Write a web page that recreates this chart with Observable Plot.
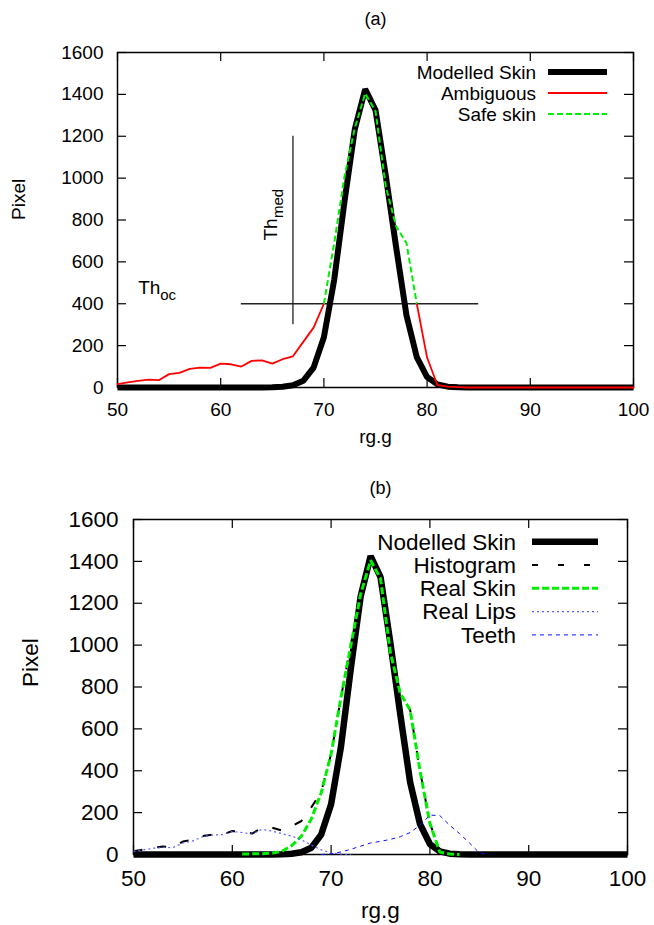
<!DOCTYPE html>
<html><head><meta charset="utf-8">
<script src="https://cdn.jsdelivr.net/npm/d3@7"></script>
<script src="https://cdn.jsdelivr.net/npm/@observablehq/plot@0.6"></script>
<style>
body{margin:0;background:#fff;}
#wrap{position:relative;width:654px;height:925px;overflow:hidden;}
#wrap svg{display:block;}
</style></head><body><div id="wrap"></div>
<script>
// ---- data ----
const rgg = [50,51,52,53,54,55,56,57,58,59,60,61,62,63,64,65,66,67,68,69,70,71,72,73,74,75,76,77,78,79,80,81,82,83,84,85,86,87,88,89,90,91,92,93,94,95,96,97,98,99,100];
const xTicks = [50,60,70,80,90,100];
const yTicks = [0,200,400,600,800,1000,1200,1400,1600];

// modelled skin (both panels)
const modelled = [0,0,0,0,0,0,0,0,0,0,0,0,0,0,
  0.5,1.5,4,11,32,95,240,515,890,1235,1425,1325,1010,670,345,145,50,15,4,1,
  0,0,0,0,0,0,0,0,0,0,0,0,0,0,0,0,0];
// panel (a)
const ambiguous = [16,24,32,38,35,64,70,89,95,94,114,111,100,127,130,114,135,149,218,286,400,
  null,null,null,null,null,null,null,null,
  400,143,11,4,2,
  0,0,0,0,0,0,0,0,0,0,0,0,0,0,0,0,0];
const safeSkin = [null,null,null,null,null,null,null,null,null,null,null,null,null,null,null,null,null,null,null,null,
  400,690,1010,1240,1405,1320,960,770,690,400,
  null,null,null,null,null,null,null,null,null,null,null,null,null,null,null,null,null,null,null,null,null];
// panel (b)
const histogram = [16,24,32,38,35,62,70,88,95,95,112,110,100,127,128,115,135,160,225,300,480,750,1005,1245,1410,1320,965,770,690,400,150,12,3,
  0,0,0,0,0,0,0,0,0,0,0,0,0,0,0,0,0,0];
const realSkin = [null,null,null,null,null,null,null,null,null,null,null,
  2,3,4,6,15,42,88,170,295,480,750,1000,1245,1405,1318,965,770,690,400,148,12,2,0,
  null,null,null,null,null,null,null,null,null,null,null,null,null,null,null,null,null];
const realLips = [15,22,30,34,33,55,65,85,93,95,110,105,98,120,112,100,88,70,45,22,7,2,0,
  null,null,null,null,null,null,null,null,null,null,null,null,null,null,null,null,null,null,null,null,null,null,null,null,null,null,null,null];
const teeth = [null,null,null,null,null,null,null,null,null,null,null,null,null,null,null,null,null,null,null,
  0,3,12,25,40,55,63,72,85,105,140,188,186,140,100,55,8,0,
  null,null,null,null,null,null,null,null,null,null,null,null,null,null];

// thresholds (panel a)
const thOc = 400, thOcRange = [62, 85];
const thMed = 67, thMedRange = [300, 1200];

const FONT = "'Liberation Sans', Arial, Helvetica, sans-serif";
const wrap = document.getElementById("wrap");
const plain = d => String(d);

function framedAxes(fw, fh, fs, padX, padY) {
  return [
    Plot.frame({stroke: "black", strokeWidth: 1.5}),
    Plot.ruleX(xTicks, {x: d => d, insetTop: fh - 9, strokeWidth: 1.2}),
    Plot.ruleX(xTicks, {x: d => d, insetBottom: fh - 9, strokeWidth: 1.2}),
    Plot.ruleY(yTicks, {y: d => d, insetRight: fw - 9, strokeWidth: 1.2}),
    Plot.ruleY(yTicks, {y: d => d, insetLeft: fw - 9, strokeWidth: 1.2}),
    Plot.axisX({ticks: xTicks, tickFormat: plain, tickSize: 0, tickPadding: padX, fontSize: fs, label: null}),
    Plot.axisY({ticks: yTicks, tickFormat: plain, tickSize: 0, tickPadding: padY, fontSize: fs, label: null})
  ];
}

function addLegend(svg, items, o) {
  const g = d3.select(svg).append("g").attr("font-family", FONT).attr("font-size", o.fontSize);
  items.forEach((it, i) => {
    const y = o.y0 + i * o.dy;
    g.append("text").attr("x", o.xText).attr("y", y).attr("dy", "0.35em")
      .attr("text-anchor", "end").attr("fill", "black").text(it.label);
    g.append("line").attr("x1", o.x1).attr("x2", o.x2).attr("y1", y).attr("y2", y)
      .attr("stroke", it.stroke).attr("stroke-width", it.width)
      .attr("stroke-dasharray", it.dash || null);
  });
}

// ---- panel (a) ----
const dataA = rgg.map((x, i) => ({x, modelled: modelled[i], ambiguous: ambiguous[i], safe: safeSkin[i]}));
const GREEN = "#00ee00";
const plotA = Plot.plot({
  width: 654, height: 462,
  marginTop: 52, marginBottom: 75, marginLeft: 117, marginRight: 21,
  style: {fontFamily: FONT, fontSize: "19px", background: "white", overflow: "visible", color: "black"},
  x: {domain: [50, 100]},
  y: {domain: [0, 1600]},
  marks: [
    ...framedAxes(516, 335, 19, 15, 14),
    Plot.text(["(a)"], {frameAnchor: "top", dy: -33, fontSize: 18, lineAnchor: "middle"}),
    Plot.text(["Pixel"], {frameAnchor: "left", dx: -99, rotate: -90, fontSize: 19, lineAnchor: "middle"}),
    Plot.text(["rg.g"], {frameAnchor: "bottom", dy: 49, fontSize: 19, lineAnchor: "middle"}),
    Plot.ruleY([thOc], {x1: thOcRange[0], x2: thOcRange[1], stroke: "#222", strokeWidth: 1.3}),
    Plot.ruleX([thMed], {y1: thMedRange[0], y2: thMedRange[1], stroke: "#222", strokeWidth: 1.3}),
    Plot.text(["Th"], {x: 52, y: 447, textAnchor: "start", lineAnchor: "bottom", fontSize: 19}),
    Plot.text(["oc"], {x: 52, y: 447, dx: 22, dy: 6, textAnchor: "start", lineAnchor: "bottom", fontSize: 15}),
    Plot.text(["Th"], {x: 65.5, y: 702, rotate: -90, textAnchor: "start", lineAnchor: "bottom", fontSize: 19}),
    Plot.text(["med"], {x: 65.5, y: 702, rotate: -90, dx: 5.5, dy: -22.5, textAnchor: "start", lineAnchor: "bottom", fontSize: 15}),
    Plot.line(dataA, {x: "x", y: "modelled", stroke: "black", strokeWidth: 6, strokeLinejoin: "miter", strokeLinecap: "butt"}),
    Plot.line(dataA, {x: "x", y: "ambiguous", stroke: "#ff0000", strokeWidth: 1.8, strokeLinejoin: "miter"}),
    Plot.line(dataA, {x: "x", y: "safe", stroke: GREEN, strokeWidth: 2, strokeDasharray: "6,3", strokeLinejoin: "miter", strokeLinecap: "butt"})
  ]
});
addLegend(plotA, [
  {label: "Modelled Skin", stroke: "black", width: 6},
  {label: "Ambiguous", stroke: "#ff0000", width: 1.8},
  {label: "Safe skin", stroke: GREEN, width: 2, dash: "6,3"}
], {xText: 536, x1: 548, x2: 607, y0: 72, dy: 21, fontSize: 19});
wrap.appendChild(plotA);

// ---- panel (b) ----
const dataB = rgg.map((x, i) => ({x, modelled: modelled[i], hist: histogram[i], skin: realSkin[i], lips: realLips[i], teeth: teeth[i]}));
const LIPS = "#5c5cff", TEETH = "#1010ff";
const plotB = Plot.plot({
  width: 654, height: 463,
  marginTop: 57, marginBottom: 71, marginLeft: 133, marginRight: 27,
  style: {fontFamily: FONT, fontSize: "22.5px", background: "white", overflow: "visible", color: "black"},
  x: {domain: [50, 100]},
  y: {domain: [0, 1600]},
  marks: [
    ...framedAxes(494, 335, 22.5, 16, 15),
    Plot.text(["(b)"], {frameAnchor: "top", dy: -31, fontSize: 18, lineAnchor: "middle"}),
    Plot.text(["Pixel"], {frameAnchor: "left", dx: -103, rotate: -90, fontSize: 22.5, lineAnchor: "middle"}),
    Plot.text(["rg.g"], {frameAnchor: "bottom", dy: 56, fontSize: 22.5, lineAnchor: "middle"}),
    Plot.line(dataB, {x: "x", y: "modelled", stroke: "black", strokeWidth: 6.5, strokeLinejoin: "miter", strokeLinecap: "butt"}),
    Plot.line(dataB, {x: "x", y: "hist", stroke: "black", strokeWidth: 2, strokeDasharray: "9,15", strokeLinejoin: "miter", strokeLinecap: "butt"}),
    Plot.line(dataB, {x: "x", y: "skin", stroke: GREEN, strokeWidth: 3, strokeDasharray: "7,3", strokeLinejoin: "miter", strokeLinecap: "butt"}),
    Plot.line(dataB, {x: "x", y: "lips", stroke: LIPS, strokeWidth: 1.2, strokeDasharray: "2,3", strokeLinecap: "butt"}),
    Plot.line(dataB, {x: "x", y: "teeth", stroke: TEETH, strokeWidth: 1, strokeDasharray: "4,4", strokeLinecap: "butt"})
  ]
});
addLegend(plotB, [
  {label: "Nodelled Skin", stroke: "black", width: 6.5},
  {label: "Histogram", stroke: "black", width: 2, dash: "6,20"},
  {label: "Real Skin", stroke: GREEN, width: 3, dash: "7,3"},
  {label: "Real Lips", stroke: LIPS, width: 1.2, dash: "2,3"},
  {label: "Teeth", stroke: TEETH, width: 1, dash: "4,4"}
], {xText: 516, x1: 532, x2: 598, y0: 79.7, dy: 23.3, fontSize: 22.5});
wrap.appendChild(plotB);
</script>
</body></html>
